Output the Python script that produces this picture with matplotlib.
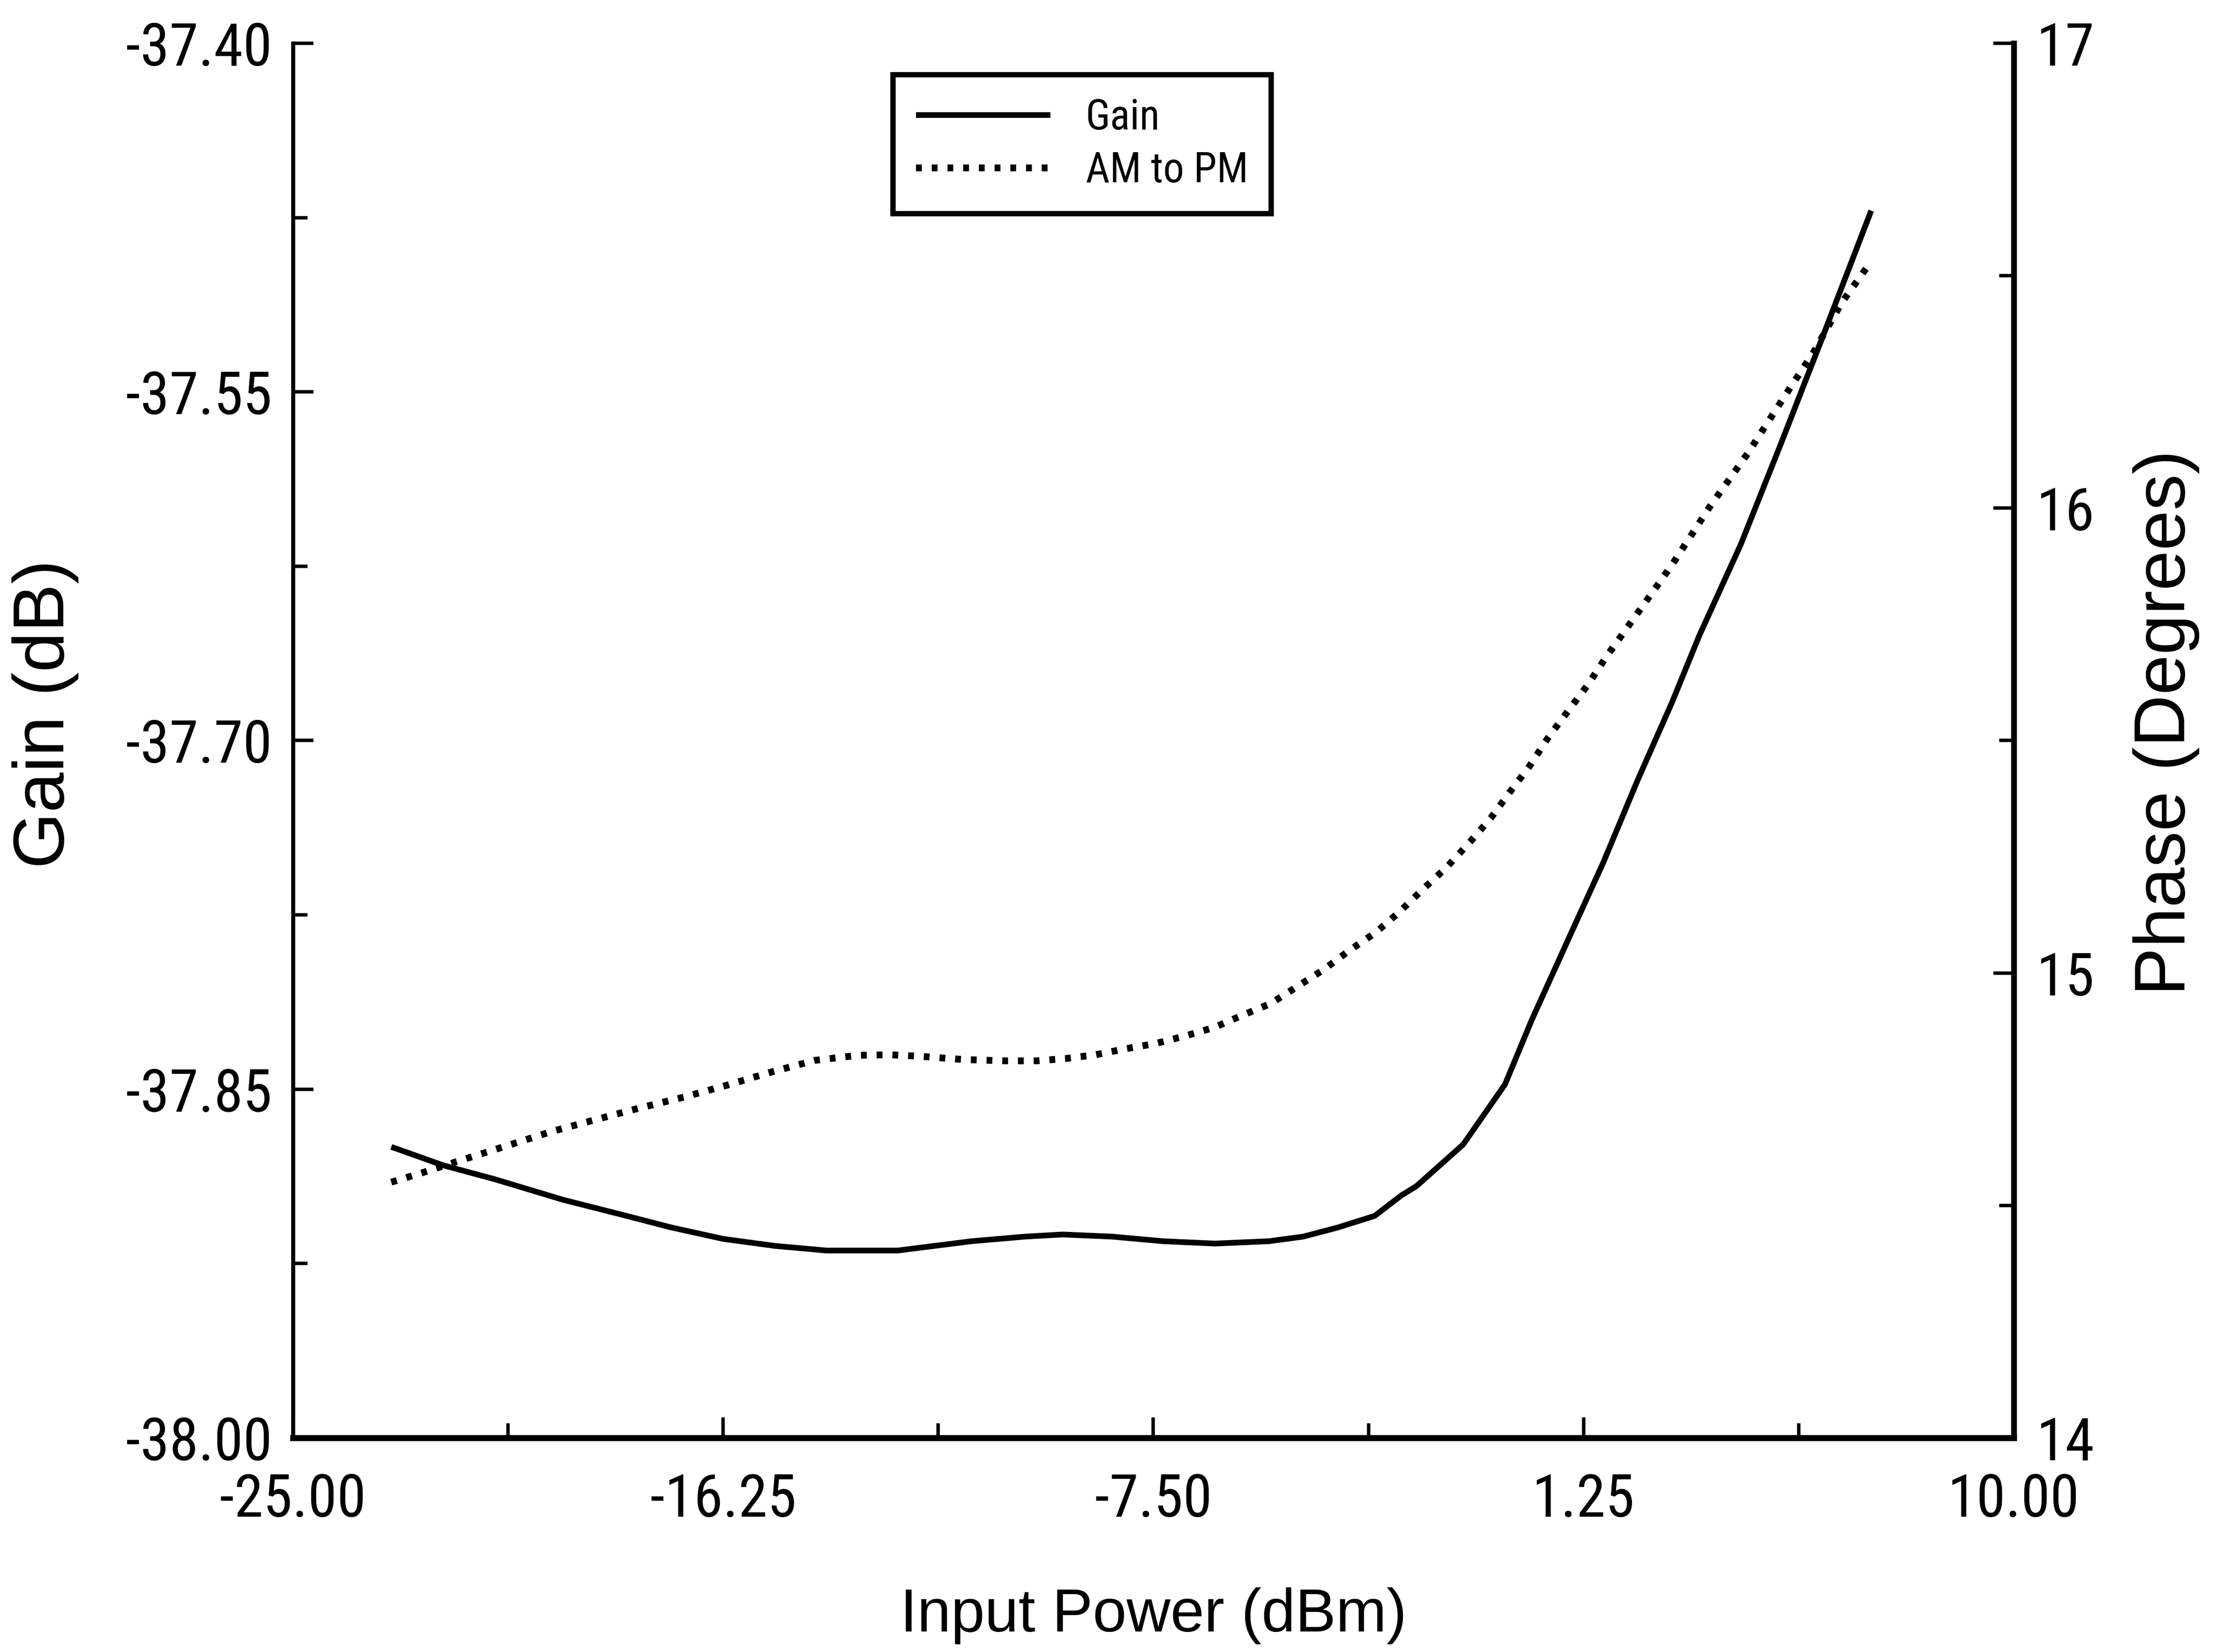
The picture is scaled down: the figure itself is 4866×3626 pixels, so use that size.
import matplotlib
matplotlib.use("Agg")
import matplotlib.pyplot as plt
from matplotlib import font_manager
from matplotlib.font_manager import FontProperties
from matplotlib.ticker import FixedLocator, FormatStrFormatter

# ---- data -------------------------------------------------------------
input_power_gain = [-23.0, -21.95, -20.9, -19.5, -18.4, -17.3, -16.25, -15.2,
                    -14.15, -12.7, -11.2, -10.1, -9.35, -8.35, -7.3, -6.25,
                    -5.15, -4.45, -3.75, -3.0, -2.45, -2.15, -1.2, -0.35, 0.2,
                    0.95, 1.65, 2.35, 3.05, 3.6, 4.45, 5.25, 6.1, 7.1]
gain_db = [-37.8748, -37.8827, -37.8887, -37.8976, -37.9035, -37.9095,
           -37.9144, -37.9174, -37.9194, -37.9194, -37.9154, -37.9134,
           -37.9125, -37.9134, -37.9154, -37.9164, -37.9154, -37.9134,
           -37.9095, -37.9045, -37.8956, -37.8917, -37.8738, -37.8480,
           -37.8200, -37.7850, -37.7525, -37.7170, -37.6835, -37.6550,
           -37.6155, -37.5730, -37.5270, -37.4720]

input_power_phase = [-23.0, -22.38, -21.53, -20.6, -19.74, -18.83, -17.97,
                     -17.05, -16.16, -15.27, -14.39, -13.5, -12.86, -12.26,
                     -11.38, -10.49, -9.88, -9.28, -8.68, -8.07, -7.47, -6.87,
                     -6.26, -5.69, -5.12, -4.04, -3.52, -2.98, -2.5, -2.01,
                     -1.54, -1.06, -0.64, -0.23, 0.15, 0.52, 0.93, 1.33, 1.71,
                     2.09, 2.49, 3.06, 3.81, 4.59, 5.34, 5.92, 6.5, 7.1]
phase_deg = [14.550, 14.570, 14.599, 14.630, 14.659, 14.685, 14.709, 14.733,
             14.759, 14.787, 14.812, 14.823, 14.824, 14.821, 14.814, 14.811,
             14.811, 14.816, 14.824, 14.837, 14.848, 14.864, 14.883, 14.909,
             14.934, 15.007, 15.048, 15.087, 15.131, 15.181, 15.227, 15.282,
             15.333, 15.392, 15.445, 15.505, 15.563, 15.619, 15.680, 15.736,
             15.795, 15.880, 16.002, 16.118, 16.241, 16.334, 16.442, 16.531]

x_major = [-25.0, -16.25, -7.5, 1.25, 10.0]
gain_major = [-38.00, -37.85, -37.70, -37.55, -37.40]
phase_major = [14, 15, 16, 17]

DPI = 300

# ---- fonts ------------------------------------------------------------
# numbers and legend use a narrow sans face when one is available
narrow_names = ["Liberation Sans Narrow", "Arial Narrow", "Roboto Condensed",
                "Open Sans Condensed"]
narrow_path = None
for name in narrow_names:
    for f in font_manager.fontManager.ttflist:
        if f.name == name and f.style == "normal" and f.weight in (400, "normal", "regular"):
            narrow_path = f.fname
            break
    if narrow_path:
        break

if narrow_path:
    num_fp = FontProperties(fname=narrow_path, size=31)
    leg_fp = FontProperties(fname=narrow_path, size=22)
else:
    num_fp = FontProperties(family="Liberation Sans", size=27)
    leg_fp = FontProperties(family="Liberation Sans", size=19)
label_font = "Liberation Sans"
plt.rcParams["font.family"] = ["Liberation Sans", "DejaVu Sans"]

fig = plt.figure(figsize=(4866 / DPI, 3626 / DPI), dpi=DPI)
left, right, bottom, top = 0.13214, 0.90834, 0.12962, 0.9738
ax = fig.add_axes([left, bottom, right - left, top - bottom])
ax2 = ax.twinx()

line_gain, = ax.plot(input_power_gain, gain_db, color="black", lw=3.0,
                     solid_capstyle="butt", solid_joinstyle="round",
                     label="Gain")
line_phase, = ax2.plot(input_power_phase, phase_deg, color="black", lw=3.6,
                       linestyle=(0, (0.85, 1.45)), dash_capstyle="butt",
                       label="AM to PM")

ax.set_xlim(-25, 10)
ax.set_ylim(-38.0, -37.4)
ax2.set_ylim(14, 17)

# ticks
ax.xaxis.set_major_locator(FixedLocator(x_major))
ax.xaxis.set_minor_locator(FixedLocator([(a + b) / 2 for a, b in zip(x_major[:-1], x_major[1:])]))
ax.xaxis.set_major_formatter(FormatStrFormatter("%.2f"))
ax.yaxis.set_major_locator(FixedLocator(gain_major))
ax.yaxis.set_minor_locator(FixedLocator([(a + b) / 2 for a, b in zip(gain_major[:-1], gain_major[1:])]))
ax.yaxis.set_major_formatter(FormatStrFormatter("%.2f"))
ax2.yaxis.set_major_locator(FixedLocator(phase_major))
ax2.yaxis.set_minor_locator(FixedLocator([14.5, 15.5, 16.5]))

ax.tick_params(axis="x", which="both", direction="in", top=False,
               pad=18, width=1.8, color="black")
ax.tick_params(axis="x", which="major", length=10.8)
ax.tick_params(axis="x", which="minor", length=7.7)
ax.tick_params(axis="y", which="both", direction="in", right=False,
               pad=11, width=1.8)
ax.tick_params(axis="y", which="major", length=10.8)
ax.tick_params(axis="y", which="minor", length=7.7)
ax2.tick_params(axis="y", which="both", direction="in", pad=12, width=1.8)
ax2.tick_params(axis="y", which="major", length=10.8)
ax2.tick_params(axis="y", which="minor", length=7.7)

for lbl in ax.get_xticklabels() + ax.get_yticklabels() + ax2.get_yticklabels():
    lbl.set_fontproperties(num_fp)

# spines
for a in (ax, ax2):
    a.spines["top"].set_visible(False)
ax.spines["right"].set_visible(False)
ax2.spines["left"].set_visible(False)
ax2.spines["bottom"].set_visible(False)
ax.spines["left"].set_linewidth(2.1)
ax.spines["bottom"].set_linewidth(3.2)
ax2.spines["right"].set_linewidth(3.0)

# axis titles
ax.set_xlabel("Input Power (dBm)", fontsize=32, fontfamily=label_font)
ax.xaxis.set_label_coords(0.500, -0.1072)
ax.set_ylabel("Gain (dB)", fontsize=38, fontfamily=label_font)
ax.yaxis.set_label_coords(-0.1245, 0.519)
ax2.set_ylabel("Phase (Degrees)", fontsize=38, fontfamily=label_font,
               rotation=90)
ax2.yaxis.set_label_coords(1.0690, 0.513)

# legend, sized in pixels of the saved figure
fs_px = leg_fp.get_size_in_points() * DPI / 72
leg = ax.legend(handles=[line_gain, line_phase], loc="upper left",
                bbox_to_anchor=(0.3486, 0.9775), borderaxespad=0,
                prop=leg_fp, frameon=True, fancybox=False,
                edgecolor="black", framealpha=1,
                handlelength=295 / fs_px, handletextpad=78 / fs_px,
                borderpad=50 / fs_px, labelspacing=0.30)
leg.get_frame().set_linewidth(2.8)

fig.savefig("out.png", dpi=DPI, facecolor="white")
